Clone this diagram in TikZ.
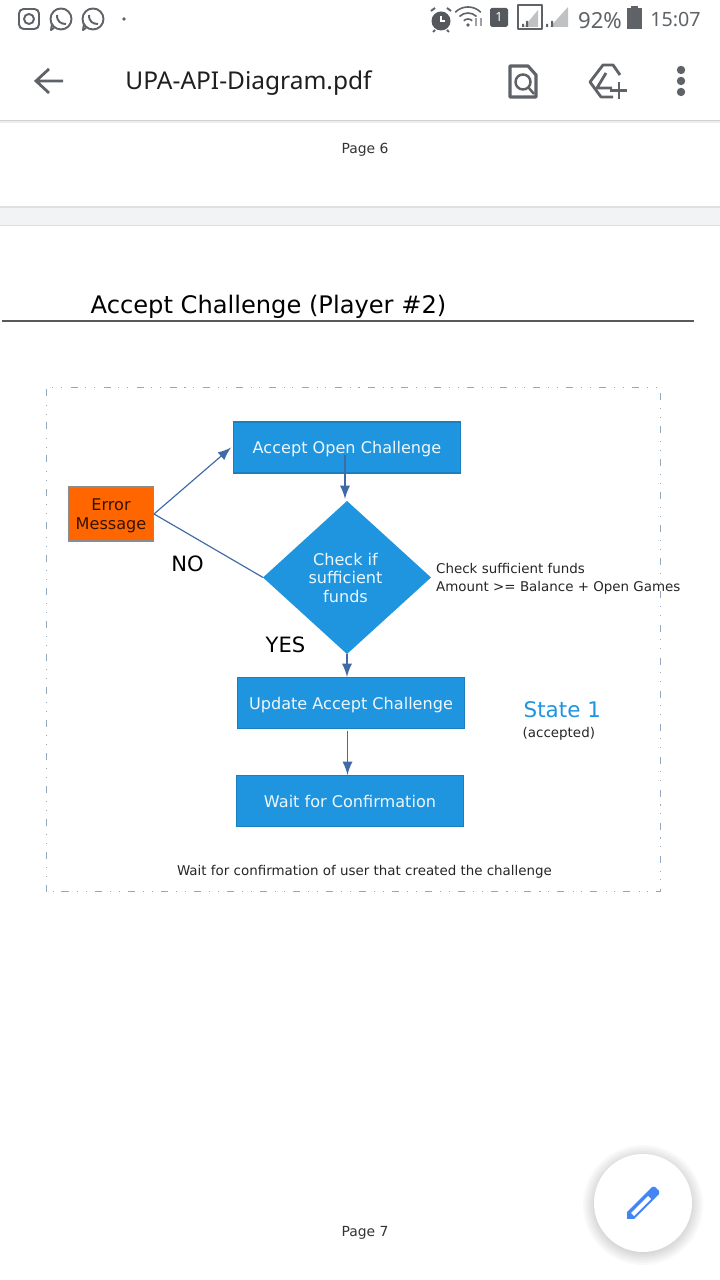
\documentclass[tikz,border=0pt]{standalone}
\usepackage{fontspec}
\usepackage{xcolor}
\setmainfont{DejaVu Sans}
\newfontfamily\phonefont{Noto Sans}
\usetikzlibrary{shapes.geometric}

\definecolor{flowblue}{HTML}{1F95E0}
\definecolor{flowedge}{HTML}{3F6AA5}
\definecolor{frameedge}{HTML}{6F8CA8}
\definecolor{erroror}{HTML}{FF6600}
\definecolor{phonegray}{HTML}{5F6368}
\definecolor{bandgray}{HTML}{F1F3F4}
\definecolor{fabblue}{HTML}{4285F4}

\tikzset{
  >=latex,
  flowbox/.style={draw=flowblue!85!black, line width=0.3pt, fill=flowblue, text=white!92!flowblue, inner sep=0pt, text depth=0pt,
    minimum width=2.265cm, minimum height=0.51cm, align=center, font=\fontsize{4.58pt}{5.4pt}\selectfont},
  flowlink/.style={flowedge, line width=0.33pt},
  note/.style={inner sep=0pt, align=left, text=black!85, font=\fontsize{3.82pt}{5.1pt}\selectfont},
  bigword/.style={inner sep=0pt, text=black, font=\fontsize{6pt}{7pt}\selectfont},
  pagemark/.style={inner sep=0pt, text=black!80, font=\fontsize{3.95pt}{5pt}\selectfont},
  statusword/.style={inner sep=0pt, text=phonegray, font=\phonefont\fontsize{6.3pt}{7pt}\selectfont},
  icon/.style={phonegray, line width=0.55pt, line join=round}
}

\begin{document}
\begin{tikzpicture}
    \useasboundingbox (0,0) rectangle (7.2,12.8);
    \fill [white] (0,0) rectangle (7.2,12.8);
    % status bar
    \draw [icon, rounded corners=1.3pt] (0.19,12.71) rectangle (0.39,12.51);
    \draw [icon] (0.29,12.61) circle [radius=0.05];
    \foreach \wx in {0.61,0.93}{
      \draw [icon] (\wx-0.07,12.52) -- (\wx-0.10,12.50) -- (\wx-0.09,12.56);
      \draw [icon] (\wx,12.61) circle [radius=0.105];
      \draw [icon] (\wx-0.04,12.65) .. controls (\wx-0.04,12.58) and (\wx,12.56) .. (\wx+0.05,12.56);
    }
    \fill [phonegray] (1.24,12.61) circle [radius=0.018];
    % alarm
    \fill [phonegray!90!black] (4.41,12.59) circle [radius=0.095];
    \draw [white, line width=0.4pt] (4.41,12.64) -- (4.41,12.59) -- (4.45,12.59);
    \draw [icon] (4.31,12.69) -- (4.35,12.72) (4.51,12.69) -- (4.47,12.72);
    \draw [icon] (4.35,12.50) -- (4.33,12.48) (4.47,12.50) -- (4.49,12.48);
    % wifi
    \foreach \wr in {0.06,0.12,0.18}{
      \draw [icon, line width=0.45pt] (4.68,12.55) ++(45:\wr) arc [start angle=45, end angle=135, radius=\wr];
    }
    \fill [phonegray] (4.68,12.55) circle [radius=0.018];
    \draw [phonegray!60, line width=0.35pt] (4.76,12.54) -- (4.76,12.62) (4.81,12.54) -- (4.81,12.62);
    % sim
    \fill [phonegray!90!black, rounded corners=0.5pt] (4.90,12.72) rectangle (5.08,12.53);
    \node (simone) at (4.99,12.625) [inner sep=0pt, text=white, font=\phonefont\bfseries\fontsize{3.6pt}{4pt}\selectfont] {1};
    % signal
    \draw [icon, line width=0.4pt] (5.18,12.75) rectangle (5.42,12.51);
    \fill [phonegray!40] (5.38,12.53) -- (5.38,12.70) -- (5.24,12.53) -- cycle;
    \fill [phonegray] (5.22,12.53) rectangle (5.24,12.56) (5.26,12.53) rectangle (5.28,12.59);
    \fill [phonegray!40] (5.68,12.53) -- (5.68,12.73) -- (5.50,12.53) -- cycle;
    \fill [phonegray] (5.46,12.53) rectangle (5.48,12.56) (5.51,12.53) rectangle (5.53,12.59);
    \node [statusword] (charge) at (6.00,12.59) {92\%};
    \fill [phonegray] (6.27,12.51) rectangle (6.42,12.72);
    \fill [phonegray] (6.31,12.72) rectangle (6.38,12.74);
    \node [statusword, font=\phonefont\fontsize{5.6pt}{7pt}\selectfont] (clock) at (6.755,12.60) {15:07};
    % header
    \draw [phonegray, line width=0.8pt] (0.63,11.99) -- (0.37,11.99) (0.49,12.11) -- (0.36,11.99) -- (0.49,11.87);
    \node [inner sep=0pt, text=black!88, font=\phonefont\fontsize{6.97pt}{8pt}\selectfont] (filename) at (2.485,11.97) {UPA-API-Diagram.pdf};
    \draw [phonegray, line width=0.9pt, line join=round] (5.10,12.14) -- (5.28,12.14) -- (5.36,12.05) -- (5.36,11.83) -- (5.10,11.83) -- cycle;
    \draw [phonegray, line width=0.7pt] (5.23,11.98) circle [radius=0.075] (5.28,11.93) -- (5.34,11.86);
    \draw [phonegray, line width=0.8pt, line join=round] (6.20,12.05) -- (6.13,12.15) -- (6.03,12.15) -- (5.90,11.98) -- (6.01,11.83) -- (6.13,11.83);
    \draw [phonegray, line width=0.8pt, line join=round] (6.06,12.07) -- (5.97,11.92) -- (6.12,11.92);
    \draw [phonegray, line width=0.8pt] (6.19,11.81) -- (6.19,11.98) (6.10,11.895) -- (6.27,11.895);
    \foreach \dy in {12.10,11.99,11.88}{
      \fill [phonegray] (6.81,\dy) circle [radius=0.042];
    }
    \fill [black!18] (0,11.585) rectangle (7.2,11.6);
    \fill [black!7] (0,11.57) rectangle (7.2,11.585);
    \node [pagemark] (pagesix) at (3.65,11.30) {Page 6};
    % gap between pages
    \fill [bandgray] (0,10.55) rectangle (7.2,10.72);
    \fill [black!12] (0,10.72) rectangle (7.2,10.735);
    \fill [black!12] (0,10.54) rectangle (7.2,10.55);
    % title
    \node [inner sep=0pt, anchor=base west, text=black, font=\fontsize{6.87pt}{8pt}\selectfont] (title) at (0.90,9.66) {Accept Challenge (Player \#2)};
    \draw [black!65, line width=0.4pt] (0.02,9.59) -- (6.94,9.59);
    % outer frame
    \draw [frameedge, opacity=0.75, line width=0.28pt, dash pattern=on 2pt off 2.2pt on 0.3pt off 2.2pt on 0.3pt off 2.4pt] (0.46,3.88) rectangle (6.60,8.92);
    % flow
    \node [flowbox] (accept) at (3.47,8.325) {Accept Open Challenge};
    \node [draw=black!45, line width=0.3pt, fill=erroror, text=black!80!erroror, inner sep=0pt, text depth=0pt, minimum width=0.85cm, minimum height=0.54cm, align=center,
      font=\fontsize{4.58pt}{5.4pt}\selectfont] (error) at (1.11,7.66) {Error\\Message};
    \node [diamond, aspect=1.1, fill=flowblue, inner sep=0pt, outer sep=0pt, minimum width=1.68cm, minimum height=1.53cm] (check) at (3.47,7.025) {};
    \node [inner sep=0pt, text=white!92!flowblue, align=center, font=\fontsize{4.58pt}{5.3pt}\selectfont] (checkword) at (3.455,7.02) {Check if\\sufficient\\funds};
    \node [flowbox] (update) at (3.51,5.77) {Update Accept Challenge};
    \node [flowbox] (waiting) at (3.50,4.79) {Wait for Confirmation};
    % side labels
    \node [bigword] (nolabel) at (1.875,7.16) {NO};
    \node [bigword] (yeslabel) at (2.855,6.35) {YES};
    \node [note, anchor=west] (fundsnote) at (4.355,7.01) {Check sufficient funds\\Amount >= Balance + Open Games};
    \node [inner sep=0pt, anchor=west, text=flowblue, font=\fontsize{6.1pt}{7pt}\selectfont] (statename) at (5.23,5.70) {State 1};
    \node [note, anchor=west] (statenote) at (5.22,5.46) {(accepted)};
    \node [note] (waitnote) at (3.645,4.085) {Wait for confirmation of user that created the challenge};
    % links
    \coordinate (acceptdrop) at (3.45,8.25);
    \coordinate (checktop) at (3.45,7.81);
    \coordinate (updatedrop) at (3.475,5.49);
    \draw [->,flowlink] (error.east) -- ([xshift=-0.6pt]accept.west);
    \draw [flowlink] (error.east) -- (check.west);
    \draw [->,flowlink] (acceptdrop) -- (checktop);
    \draw [->,flowlink] (check.south) -- (check.south |- update.north);
    \draw [->,flowlink] (updatedrop) -- (updatedrop |- waiting.north);
    % page number and edit button
    \node [pagemark] (pageseven) at (3.65,0.47) {Page 7};
    \foreach \sh in {1,...,8}{
      \fill [black, opacity=0.022] (6.43,0.75) circle [radius=0.44+0.02*\sh];
    }
    \fill [white] (6.43,0.77) circle [radius=0.49];
    \fill [fabblue] (6.27,0.61) -- (6.27,0.68) -- (6.52,0.93) -- (6.55,0.93) -- (6.59,0.89) -- (6.59,0.86) -- (6.34,0.61) -- cycle;
    \fill [white] (6.31,0.67) -- (6.34,0.64) -- (6.51,0.81) -- (6.48,0.84) -- cycle;
\end{tikzpicture}
\end{document}
